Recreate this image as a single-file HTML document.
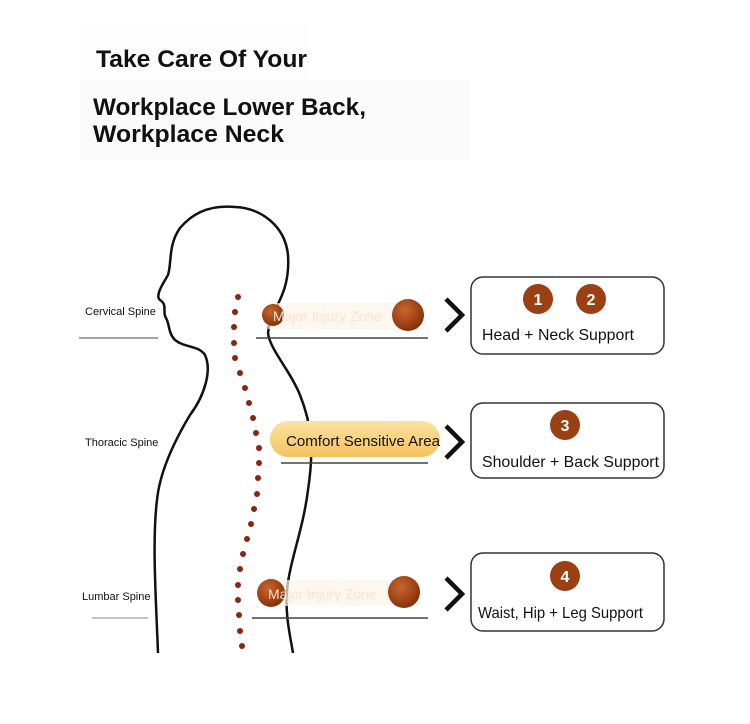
<!DOCTYPE html>
<html><head><meta charset="utf-8"><style>
body{margin:0;background:#fff;}
svg{display:block;}
text{font-family:"Liberation Sans",sans-serif;}
</style></head><body>
<svg width="750" height="724" viewBox="0 0 750 724" xmlns="http://www.w3.org/2000/svg">
<defs>
<radialGradient id="ball" cx="0.4" cy="0.35" r="0.7"><stop offset="0" stop-color="#c8662e"/><stop offset="0.7" stop-color="#9a3e12"/><stop offset="1" stop-color="#7a2e0c"/></radialGradient>
<linearGradient id="pill" x1="0" y1="0" x2="0" y2="1"><stop offset="0" stop-color="#fbe3a4"/><stop offset="1" stop-color="#f4c25c"/></linearGradient>
</defs>
<rect x="86" y="24" width="222" height="56" fill="#fdfdfd"/>
<rect x="80" y="80" width="390" height="80" fill="#fbfbfb"/>
<text x="96" y="67" font-size="24" font-weight="bold" fill="#111" textLength="211" lengthAdjust="spacingAndGlyphs">Take Care Of Your</text>
<text x="93" y="115" font-size="24" font-weight="bold" fill="#111" textLength="273" lengthAdjust="spacingAndGlyphs">Workplace Lower Back,</text>
<text x="93" y="142" font-size="24" font-weight="bold" fill="#111" textLength="191" lengthAdjust="spacingAndGlyphs">Workplace Neck</text>

<!-- body -->
<path d="M158,653 C156,600 152,540 157,500 C160,470 175,440 190,415 C205,395 212,370 205,355 C198,345 185,348 175,340 C168,333 170,325 166,318 C162,312 168,305 160,300 C155,296 162,285 168,275 C172,262 168,245 180,228 C195,210 215,205 235,207 C260,208 285,225 288,255 C290,285 280,300 270,320 L268,333 C270,350 290,370 300,395 C312,425 314,450 308,490 C303,530 290,560 287,590 C285,615 290,635 293,653" fill="none" stroke="#111" stroke-width="2.5"/>
<!-- dots -->
<g fill="#8a2414">
<circle cx="238" cy="297" r="3"/><circle cx="235" cy="312" r="3"/><circle cx="234" cy="327" r="3"/><circle cx="234" cy="343" r="3"/><circle cx="235" cy="358" r="3"/><circle cx="240" cy="373" r="3"/><circle cx="245" cy="388" r="3"/><circle cx="249" cy="403" r="3"/><circle cx="253" cy="418" r="3"/><circle cx="256" cy="433" r="3"/><circle cx="259" cy="448" r="3"/><circle cx="259" cy="463" r="3"/><circle cx="258" cy="478" r="3"/><circle cx="257" cy="494" r="3"/><circle cx="254" cy="509" r="3"/><circle cx="251" cy="524" r="3"/><circle cx="247" cy="539" r="3"/><circle cx="243" cy="554" r="3"/><circle cx="240" cy="569" r="3"/><circle cx="238" cy="585" r="3"/><circle cx="238" cy="600" r="3"/><circle cx="239" cy="615" r="3"/><circle cx="240" cy="631" r="3"/><circle cx="242" cy="646" r="3"/>
</g>
<!-- labels left -->
<text x="85" y="315" font-size="11" fill="#111">Cervical Spine</text>
<line x1="79" y1="338" x2="158" y2="338" stroke="#444" stroke-width="1"/>
<text x="85" y="446" font-size="11" fill="#111">Thoracic Spine</text>
<text x="82" y="600" font-size="11" fill="#111">Lumbar Spine</text>
<line x1="92" y1="618" x2="148" y2="618" stroke="#888" stroke-width="1"/>

<!-- zone 1 -->
<rect x="268" y="303" width="150" height="26" fill="#fdf3ea" opacity="0.7"/>
<circle cx="273" cy="315" r="11" fill="url(#ball)"/>
<circle cx="408" cy="315" r="16" fill="url(#ball)"/>
<text x="273" y="321" font-size="14" fill="#fbe2cf">Major Injury Zone</text>
<line x1="256" y1="338" x2="428" y2="338" stroke="#444" stroke-width="1.5"/>
<!-- pill -->
<rect x="270" y="421" width="170" height="36" rx="18" fill="url(#pill)"/>
<text x="286" y="446" font-size="15" fill="#111" textLength="154" lengthAdjust="spacingAndGlyphs">Comfort Sensitive Area</text>
<line x1="281" y1="463" x2="428" y2="463" stroke="#444" stroke-width="1.5"/>
<!-- zone 2 -->
<rect x="262" y="580" width="158" height="26" fill="#fdf3ea" opacity="0.7"/>
<circle cx="271" cy="593" r="14" fill="url(#ball)"/>
<circle cx="404" cy="592" r="16" fill="url(#ball)"/>
<text x="268" y="599" font-size="14" fill="#fbe2cf">Major Injury Zone</text>
<line x1="252" y1="618" x2="428" y2="618" stroke="#444" stroke-width="1.5"/>

<!-- chevrons -->
<g fill="none" stroke="#111" stroke-width="4.5">
<polyline points="446,299 462,315 446,331"/>
<polyline points="446,426 462,442 446,458"/>
<polyline points="446,578 462,594 446,610"/>
</g>
<!-- boxes -->
<g fill="#fff" stroke="#333" stroke-width="1.5">
<rect x="471" y="277" width="193" height="77" rx="12"/>
<rect x="471" y="403" width="193" height="75" rx="12"/>
<rect x="471" y="553" width="193" height="78" rx="12"/>
</g>
<g font-size="16" font-weight="bold" fill="#fff" text-anchor="middle">
<circle cx="538" cy="299" r="15" fill="#9a4012"/><text x="538" y="305">1</text>
<circle cx="591" cy="299" r="15" fill="#9a4012"/><text x="591" y="305">2</text>
<circle cx="565" cy="425" r="15" fill="#9a4012"/><text x="565" y="431">3</text>
<circle cx="565" cy="576" r="15" fill="#9a4012"/><text x="565" y="582">4</text>
</g>
<text x="482" y="340" font-size="16" fill="#111" textLength="152" lengthAdjust="spacingAndGlyphs">Head + Neck Support</text>
<text x="482" y="467" font-size="16" fill="#111" textLength="177" lengthAdjust="spacingAndGlyphs">Shoulder + Back Support</text>
<text x="478" y="618" font-size="16" fill="#111" textLength="165" lengthAdjust="spacingAndGlyphs">Waist, Hip + Leg Support</text>
</svg>
</body></html>
